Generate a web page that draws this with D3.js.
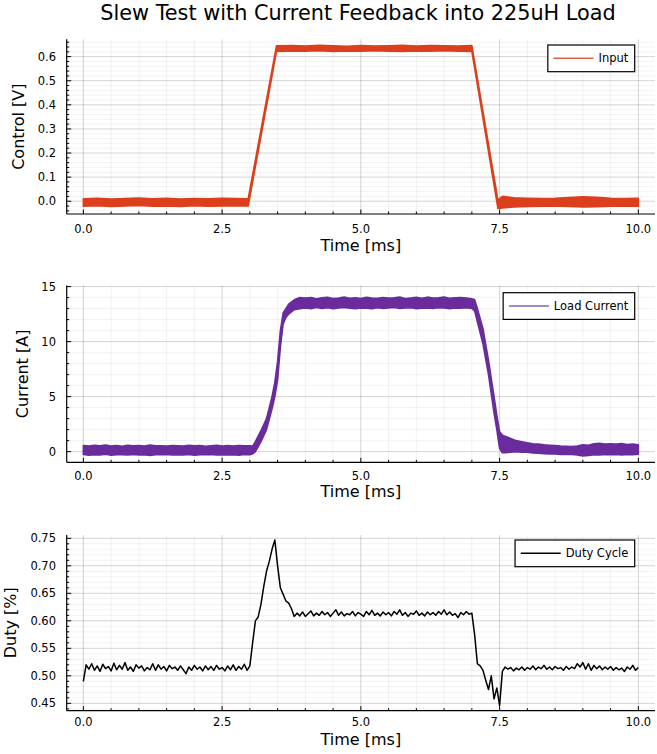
<!DOCTYPE html>
<html><head><meta charset="utf-8">
<script src="https://cdn.jsdelivr.net/npm/d3@7"></script>
<style>body{margin:0;background:#fff}svg{display:block;font-family:"DejaVu Sans",sans-serif}</style>
</head><body><svg id="c" width="657" height="754"></svg>
<script>
const title = "Slew Test with Current Feedback into 225uH Load";
const xLabel = "Time [ms]";
const xTicks = [0, 2.5, 5, 7.5, 10];

// Panel 1: Input (control voltage) noise envelope
const inputTime = [0,0.25,0.5,0.75,1.0,1.25,1.5,1.75,2.0,2.25,2.5,2.75,2.97,3.48,3.75,4.0,4.25,4.5,4.75,5.0,5.25,5.5,5.75,6.0,6.25,6.5,6.75,7.0,7.47,7.55,7.75,8.0,8.25,8.5,8.75,9.0,9.25,9.5,9.75,10.0];
const inputLow  = [-0.021,-0.019,-0.022,-0.020,-0.018,-0.021,-0.020,-0.022,-0.019,-0.021,-0.020,-0.019,-0.020,0.622,0.624,0.623,0.625,0.622,0.624,0.623,0.625,0.623,0.622,0.624,0.623,0.625,0.623,0.622,-0.030,-0.028,-0.024,-0.022,-0.021,-0.020,-0.022,-0.024,-0.023,-0.021,-0.020,-0.021];
const inputHigh = [0.010,0.012,0.009,0.011,0.013,0.010,0.012,0.009,0.011,0.010,0.012,0.011,0.010,0.645,0.646,0.644,0.647,0.645,0.643,0.646,0.644,0.645,0.647,0.644,0.646,0.645,0.644,0.646,0.005,0.020,0.014,0.012,0.011,0.012,0.015,0.018,0.016,0.012,0.011,0.012];
const inputYTicks = [0, 0.1, 0.2, 0.3, 0.4, 0.5, 0.6];

// Panel 2: Load current noise envelope
const currentTime = [0,0.1,0.2,0.3,0.4,0.5,0.6,0.7,0.8,0.9,1.0,1.1,1.2,1.3,1.4,1.5,1.6,1.7,1.8,1.9,2.0,2.1,2.2,2.3,2.4,2.5,2.6,2.7,2.8,2.9,3.0,
 3.05,3.1,3.2,3.3,3.4,3.45,3.5,3.55,3.6,3.65,3.7,3.8,3.9,
 4.0,4.1,4.2,4.3,4.4,4.5,4.6,4.7,4.8,4.9,5.0,5.1,5.2,5.3,5.4,5.5,5.6,5.7,5.8,5.9,6.0,6.1,6.2,6.3,6.4,6.5,6.6,6.7,6.8,6.9,7.0,
 7.05,7.1,7.2,7.3,7.4,7.45,7.5,7.55,7.6,7.7,7.8,7.9,
 8.0,8.1,8.2,8.3,8.4,8.5,8.6,8.7,8.8,8.9,9.0,9.1,9.2,9.3,9.4,9.5,9.6,9.7,9.8,9.9,10.0];
const currentLow = [-0.25,-0.32,-0.28,-0.30,-0.24,-0.33,-0.27,-0.29,-0.31,-0.26,-0.30,-0.28,-0.34,-0.27,-0.29,-0.25,-0.31,-0.28,-0.30,-0.26,-0.33,-0.28,-0.29,-0.25,-0.31,-0.27,-0.30,-0.28,-0.32,-0.26,-0.29,
 -0.20,0.0,0.9,2.0,3.9,5.0,6.5,9.5,11.6,12.2,12.5,12.9,13.0,
 13.05,13.00,13.10,13.02,13.08,12.98,13.05,13.10,13.03,13.00,13.07,13.04,12.99,13.08,13.02,13.06,13.10,13.01,13.05,13.08,12.98,13.04,13.07,13.02,13.09,13.05,13.00,13.06,13.03,13.08,13.02,
 12.8,11.8,9.8,7.0,3.5,2.0,0.3,-0.1,-0.1,-0.05,0.0,-0.05,
 -0.05,-0.12,-0.15,-0.18,-0.20,-0.22,-0.25,-0.24,-0.26,-0.30,-0.40,-0.35,-0.28,-0.30,-0.25,-0.28,-0.26,-0.30,-0.25,-0.27,-0.24];
const currentHigh = [0.55,0.50,0.58,0.52,0.60,0.51,0.56,0.49,0.57,0.53,0.55,0.50,0.59,0.52,0.54,0.50,0.56,0.53,0.51,0.57,0.52,0.55,0.49,0.54,0.58,0.51,0.55,0.50,0.56,0.52,0.54,
 0.50,0.90,1.9,3.0,5.0,6.3,8.2,11.0,12.6,13.0,13.4,13.8,14.0,
 13.95,14.00,13.90,13.98,14.02,13.92,13.96,14.05,13.94,13.99,13.91,14.03,13.97,13.93,14.01,13.95,13.98,14.06,13.92,13.97,14.02,13.94,14.04,13.96,13.99,14.05,13.93,13.98,14.00,13.95,13.90,
 13.8,13.0,11.2,8.3,5.0,3.3,1.8,1.5,1.4,1.2,1.0,0.9,
 0.80,0.72,0.68,0.62,0.58,0.55,0.50,0.48,0.46,0.50,0.62,0.58,0.72,0.75,0.70,0.72,0.68,0.74,0.65,0.70,0.62];
const currentYTicks = [0, 5, 10, 15];

// Panel 3: Duty cycle, sampled every 0.05 ms from 0 to 10 ms
const dutyStep = 0.05;
const dutyValues = [0.490,0.520,0.512,0.522,0.510,0.518,0.508,0.521,0.513,0.517,
 0.509,0.523,0.511,0.519,0.512,0.524,0.510,0.516,0.508,0.520,
 0.514,0.518,0.509,0.515,0.511,0.522,0.510,0.520,0.512,0.517,
 0.509,0.519,0.513,0.516,0.510,0.518,0.511,0.504,0.516,0.510,
 0.519,0.512,0.516,0.509,0.518,0.511,0.517,0.510,0.519,0.512,
 0.515,0.509,0.518,0.511,0.520,0.510,0.517,0.512,0.521,0.510,
 0.518,0.560,0.600,0.607,0.630,0.662,0.690,0.708,0.730,0.747,
 0.700,0.660,0.648,0.636,0.632,0.622,0.608,0.614,0.609,0.616,
 0.608,0.613,0.618,0.609,0.614,0.610,0.617,0.611,0.615,0.608,
 0.614,0.620,0.610,0.616,0.609,0.613,0.611,0.617,0.609,0.615,
 0.612,0.608,0.617,0.611,0.619,0.610,0.614,0.609,0.616,0.611,
 0.615,0.609,0.617,0.612,0.620,0.610,0.615,0.608,0.614,0.612,
 0.618,0.610,0.614,0.609,0.616,0.611,0.615,0.610,0.617,0.612,
 0.620,0.611,0.616,0.610,0.613,0.606,0.615,0.611,0.617,0.612,
 0.614,0.575,0.522,0.518,0.510,0.492,0.475,0.500,0.458,0.478,
 0.446,0.508,0.516,0.512,0.515,0.509,0.514,0.511,0.516,0.510,
 0.515,0.512,0.518,0.511,0.516,0.513,0.519,0.512,0.516,0.511,
 0.517,0.513,0.515,0.510,0.517,0.512,0.516,0.513,0.522,0.516,
 0.524,0.512,0.522,0.510,0.519,0.513,0.518,0.511,0.516,0.512,
 0.517,0.510,0.515,0.511,0.514,0.508,0.516,0.512,0.519,0.510,
 0.515];
const dutyYTicks = [0.45, 0.50, 0.55, 0.60, 0.65, 0.70, 0.75];

const svg = d3.select("#c");
const L = 66.7, R = 655;
const x = d3.scaleLinear().domain([-0.3, 10.3]).range([L, R]);

svg.append("text").attr("x", 358).attr("y", 20).attr("text-anchor", "middle")
  .attr("font-size", 20.8).attr("fill", "#000").text(title);

const panels = [
  {top: 39.3, bottom: 214, dom: [-0.053, 0.672], yTicks: inputYTicks, yMinor: 0.02, fmt: d3.format(".1f"),
   ylabel: "Control [V]", ylx: 18, tickBase: 233, labBase: 251, legend: "Input", legTop: 45, color: "#dc3f1c", legColor: "#e0624a",
   kind: "band", t: inputTime, lo: inputLow, hi: inputHigh},
  {top: 285.5, bottom: 462.3, dom: [-0.97, 15.1], yTicks: currentYTicks, yMinor: 1, fmt: d3.format("d"),
   ylabel: "Current [A]", ylx: 22.5, tickBase: 479.5, labBase: 497, legend: "Load Current", legTop: 292.7, color: "#6a2c9c", legColor: "#8c5cb8",
   kind: "band", t: currentTime, lo: currentLow, hi: currentHigh},
  {top: 535, bottom: 710.7, dom: [0.4366, 0.756], yTicks: dutyYTicks, yMinor: 0.01, fmt: d3.format(".2f"),
   ylabel: "Duty [%]", ylx: 10, tickBase: 726.3, labBase: 745, legend: "Duty Cycle", legTop: 540, color: "#000", legColor: "#000",
   kind: "line", v: dutyValues}
];

panels.forEach(p => {
  const y = d3.scaleLinear().domain(p.dom).range([p.bottom, p.top]);
  const g = svg.append("g");
  const xMinor = d3.range(0, 10.0001, 0.5);
  const yMin = Math.ceil(p.dom[0] / p.yMinor - 1e-6), yMax = Math.floor(p.dom[1] / p.yMinor + 1e-6);
  const yMinorVals = d3.range(yMin, yMax + 1).map(k => k * p.yMinor);
  // minor grid
  g.selectAll(".mx").data(xMinor).join("line").attr("x1", d => x(d)).attr("x2", d => x(d))
    .attr("y1", p.top).attr("y2", p.bottom).attr("stroke", "#000").attr("stroke-opacity", 0.05);
  g.selectAll(".my").data(yMinorVals).join("line").attr("x1", L).attr("x2", R)
    .attr("y1", d => y(d)).attr("y2", d => y(d)).attr("stroke", "#000").attr("stroke-opacity", 0.05);
  // major grid
  g.selectAll(".gx").data(xTicks).join("line").attr("x1", d => x(d)).attr("x2", d => x(d))
    .attr("y1", p.top).attr("y2", p.bottom).attr("stroke", "#000").attr("stroke-opacity", 0.13);
  g.selectAll(".gy").data(p.yTicks).join("line").attr("x1", L).attr("x2", R)
    .attr("y1", d => y(d)).attr("y2", d => y(d)).attr("stroke", "#000").attr("stroke-opacity", 0.13);

  // data
  if (p.kind === "band") {
    const pts = p.t.map((t, i) => ({t, lo: p.lo[i], hi: p.hi[i]}));
    g.append("path").datum(pts)
      .attr("d", d3.area().x(d => x(d.t)).y0(d => y(d.lo)).y1(d => y(d.hi)))
      .attr("fill", p.color).attr("stroke", p.color).attr("stroke-width", 1.6).attr("stroke-linejoin", "round");
  } else {
    const pts = p.v.map((v, i) => ({t: i * dutyStep, v}));
    g.append("path").datum(pts)
      .attr("d", d3.line().x(d => x(d.t)).y(d => y(d.v)))
      .attr("fill", "none").attr("stroke", p.color).attr("stroke-width", 1.5).attr("stroke-linejoin", "round");
  }

  // axes lines
  g.append("line").attr("x1", L).attr("x2", L).attr("y1", p.top).attr("y2", p.bottom).attr("stroke", "#000").attr("stroke-width", 1.2);
  g.append("line").attr("x1", L).attr("x2", R).attr("y1", p.bottom).attr("y2", p.bottom).attr("stroke", "#000").attr("stroke-width", 1.2);
  // ticks (inward)
  g.selectAll(".tx").data(xMinor).join("line").attr("x1", d => x(d)).attr("x2", d => x(d))
    .attr("y1", p.bottom).attr("y2", d => p.bottom - (xTicks.includes(d) ? 4.5 : 2.5)).attr("stroke", "#000");
  g.selectAll(".ty").data(yMinorVals).join("line").attr("x1", L).attr("x2", d => L + (p.yTicks.some(v => Math.abs(v - d) < 1e-6) ? 4.5 : 2.5))
    .attr("y1", d => y(d)).attr("y2", d => y(d)).attr("stroke", "#000");
  // tick labels
  g.selectAll(".lx").data(xTicks).join("text").attr("x", d => x(d)).attr("y", p.tickBase)
    .attr("text-anchor", "middle").attr("font-size", 11.5).text(d => d3.format(".1f")(d));
  g.selectAll(".ly").data(p.yTicks).join("text").attr("x", 56).attr("y", d => y(d)).attr("dy", "0.36em")
    .attr("text-anchor", "end").attr("font-size", 11.5).text(d => p.fmt(d));
  // axis labels
  g.append("text").attr("x", (L + R) / 2).attr("y", p.labBase).attr("text-anchor", "middle").attr("font-size", 16).text(xLabel);
  g.append("text").attr("transform", `translate(${p.ylx},${(p.top + p.bottom) / 2}) rotate(-90)`)
    .attr("dy", "0.36em").attr("text-anchor", "middle").attr("font-size", 16).text(p.ylabel);

  // legend
  const lg = g.append("g");
  const box = lg.append("rect").attr("y", p.legTop).attr("height", 26.7).attr("fill", "#fff").attr("stroke", "#000").attr("stroke-width", 1.2);
  const txt = lg.append("text").attr("y", p.legTop + 13.35).attr("dy", "0.36em").attr("font-size", 11.5).text(p.legend);
  const tw = txt.node().getComputedTextLength();
  const right = 634.7;
  const textX = right - 6.4 - tw;
  txt.attr("x", textX);
  const lineX2 = textX - 5, lineX1 = lineX2 - 40;
  box.attr("x", lineX1 - 5.7).attr("width", right - (lineX1 - 5.7));
  lg.append("line").attr("x1", lineX1).attr("x2", lineX2).attr("y1", p.legTop + 13.35).attr("y2", p.legTop + 13.35)
    .attr("stroke", p.legColor).attr("stroke-width", 1.5);
});
</script></body></html>
